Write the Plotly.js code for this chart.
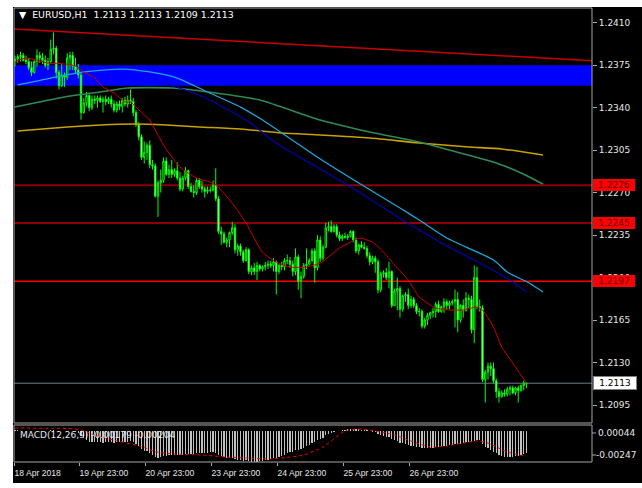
<!DOCTYPE html>
<html>
<head>
<meta charset="utf-8">
<script src="https://cdn.plot.ly/plotly-3.0.1.min.js"></script>
<style>
  html, body { margin: 0; padding: 0; background: #ffffff; }
  #chart { width: 642px; height: 488px; }
</style>
</head>
<body>
<div id="chart"></div>
<script>
// EURUSD H1 candles, oldest bar first
const openPx = [
  1.2378,1.2380,1.2382,1.2383,1.2379,1.2378,1.2373,1.2369,1.2378,1.2383,
  1.2381,1.2379,1.2375,1.2378,1.2388,1.2389,1.2369,1.2358,1.2367,1.2365,
  1.2381,1.2383,1.2374,1.2371,1.2367,1.2336,1.2344,1.2350,1.2340,1.2347,
  1.2346,1.2348,1.2345,1.2347,1.2345,1.2347,1.2343,1.2338,1.2343,1.2341,
  1.2346,1.2343,1.2346,1.2345,1.2336,1.2326,1.2316,1.2299,1.2303,1.2309,
  1.2293,1.2292,1.2267,1.2278,1.2280,1.2296,1.2285,1.2289,1.2285,1.2288,
  1.2282,1.2273,1.2282,1.2288,1.2275,1.2271,1.2270,1.2280,1.2275,1.2273,
  1.2271,1.2272,1.2272,1.2276,1.2265,1.2238,1.2236,1.2229,1.2231,1.2237,
  1.2241,1.2223,1.2226,1.2221,1.2214,1.2223,1.2205,1.2208,1.2205,1.2210,
  1.2207,1.2209,1.2210,1.2211,1.2210,1.2213,1.2205,1.2210,1.2209,1.2214,
  1.2214,1.2211,1.2205,1.2217,1.2197,1.2201,1.2210,1.2211,1.2214,1.2222,
  1.2208,1.2231,1.2216,1.2225,1.2241,1.2242,1.2238,1.2242,1.2235,1.2232,
  1.2234,1.2233,1.2234,1.2238,1.2231,1.2222,1.2227,1.2225,1.2224,1.2218,
  1.2213,1.2216,1.2213,1.2190,1.2203,1.2204,1.2200,1.2205,1.2177,1.2189,
  1.2191,1.2174,1.2185,1.2186,1.2177,1.2182,1.2177,1.2172,1.2172,1.2160,
  1.2165,1.2169,1.2171,1.2172,1.2178,1.2172,1.2176,1.2180,1.2177,1.2179,
  1.2180,1.2182,1.2165,1.2177,1.2173,1.2183,1.2182,1.2157,1.2200,1.2176,
  1.2175,1.2116,1.2122,1.2127,1.2125,1.2115,1.2106,1.2102,1.2105,1.2104,
  1.2108,1.2109,1.2105,1.2109,1.2107,1.2111,1.2113
];
const highPx = [
  1.2383,1.2384,1.2386,1.2385,1.2383,1.2381,1.2378,1.2379,1.2388,1.2386,
  1.2385,1.2383,1.2381,1.2396,1.2402,1.2391,1.2371,1.2376,1.2369,1.2385,
  1.2386,1.2386,1.2381,1.2376,1.2369,1.2348,1.2353,1.2351,1.2350,1.2350,
  1.2350,1.2350,1.2349,1.2350,1.2349,1.2350,1.2346,1.2345,1.2346,1.2348,
  1.2349,1.2350,1.2355,1.2348,1.2338,1.2328,1.2318,1.2312,1.2311,1.2313,
  1.2297,1.2294,1.2280,1.2289,1.2299,1.2299,1.2293,1.2297,1.2290,1.2295,
  1.2287,1.2284,1.2291,1.2289,1.2278,1.2276,1.2282,1.2282,1.2280,1.2275,
  1.2275,1.2275,1.2280,1.2290,1.2267,1.2242,1.2238,1.2233,1.2238,1.2246,
  1.2244,1.2228,1.2228,1.2223,1.2225,1.2224,1.2210,1.2212,1.2213,1.2211,
  1.2210,1.2213,1.2214,1.2214,1.2216,1.2214,1.2211,1.2213,1.2216,1.2219,
  1.2217,1.2214,1.2224,1.2219,1.2205,1.2212,1.2224,1.2216,1.2224,1.2224,
  1.2235,1.2234,1.2227,1.2245,1.2246,1.2247,1.2244,1.2244,1.2238,1.2236,
  1.2237,1.2236,1.2239,1.2239,1.2233,1.2228,1.2230,1.2229,1.2226,1.2221,
  1.2218,1.2218,1.2215,1.2205,1.2206,1.2208,1.2213,1.2206,1.2191,1.2200,
  1.2193,1.2186,1.2188,1.2191,1.2185,1.2184,1.2179,1.2175,1.2174,1.2167,
  1.2171,1.2172,1.2175,1.2180,1.2181,1.2177,1.2183,1.2182,1.2181,1.2182,
  1.2190,1.2188,1.2178,1.2182,1.2188,1.2186,1.2185,1.2210,1.2209,1.2182,
  1.2177,1.2124,1.2130,1.2130,1.2130,1.2117,1.2109,1.2107,1.2108,1.2110,
  1.2111,1.2111,1.2110,1.2111,1.2112,1.2115,1.2113
];
const lowPx = [
  1.2374,1.2377,1.2378,1.2378,1.2376,1.2371,1.2366,1.2368,1.2374,1.2377,
  1.2376,1.2373,1.2371,1.2376,1.2384,1.2364,1.2355,1.2357,1.2357,1.2363,
  1.2371,1.2371,1.2368,1.2364,1.2330,1.2335,1.2341,1.2337,1.2338,1.2343,
  1.2340,1.2344,1.2336,1.2342,1.2343,1.2340,1.2336,1.2336,1.2338,1.2336,
  1.2341,1.2340,1.2343,1.2333,1.2324,1.2313,1.2297,1.2294,1.2297,1.2290,
  1.2289,1.2266,1.2250,1.2270,1.2278,1.2284,1.2282,1.2282,1.2283,1.2280,
  1.2271,1.2271,1.2280,1.2273,1.2270,1.2266,1.2268,1.2273,1.2270,1.2266,
  1.2269,1.2270,1.2271,1.2263,1.2236,1.2227,1.2228,1.2225,1.2225,1.2235,
  1.2220,1.2218,1.2218,1.2212,1.2213,1.2203,1.2202,1.2202,1.2198,1.2205,
  1.2205,1.2206,1.2207,1.2208,1.2205,1.2186,1.2203,1.2206,1.2206,1.2211,
  1.2208,1.2201,1.2202,1.2190,1.2183,1.2199,1.2207,1.2210,1.2213,1.2196,
  1.2206,1.2213,1.2214,1.2224,1.2238,1.2237,1.2237,1.2233,1.2230,1.2230,
  1.2232,1.2231,1.2233,1.2229,1.2220,1.2219,1.2224,1.2223,1.2216,1.2210,
  1.2211,1.2204,1.2187,1.2188,1.2200,1.2198,1.2191,1.2175,1.2177,1.2173,
  1.2167,1.2172,1.2180,1.2174,1.2175,1.2175,1.2170,1.2168,1.2158,1.2158,
  1.2161,1.2166,1.2167,1.2167,1.2171,1.2171,1.2171,1.2174,1.2174,1.2177,
  1.2159,1.2155,1.2163,1.2167,1.2172,1.2175,1.2154,1.2146,1.2174,1.2172,
  1.2114,1.2097,1.2116,1.2119,1.2113,1.2101,1.2097,1.2101,1.2102,1.2102,
  1.2103,1.2104,1.2103,1.2097,1.2106,1.2107,1.2109
];
const closePx = [
  1.2380,1.2382,1.2383,1.2379,1.2378,1.2373,1.2369,1.2378,1.2383,1.2381,
  1.2379,1.2375,1.2378,1.2388,1.2389,1.2369,1.2358,1.2367,1.2365,1.2381,
  1.2383,1.2374,1.2371,1.2367,1.2336,1.2344,1.2350,1.2340,1.2347,1.2346,
  1.2348,1.2345,1.2347,1.2345,1.2347,1.2343,1.2338,1.2343,1.2341,1.2346,
  1.2343,1.2346,1.2345,1.2336,1.2326,1.2316,1.2299,1.2303,1.2309,1.2293,
  1.2292,1.2267,1.2278,1.2280,1.2296,1.2285,1.2289,1.2285,1.2288,1.2282,
  1.2273,1.2282,1.2288,1.2275,1.2271,1.2270,1.2280,1.2275,1.2273,1.2271,
  1.2272,1.2272,1.2276,1.2265,1.2238,1.2236,1.2229,1.2231,1.2237,1.2241,
  1.2223,1.2226,1.2221,1.2214,1.2223,1.2205,1.2208,1.2205,1.2210,1.2207,
  1.2209,1.2210,1.2211,1.2210,1.2213,1.2205,1.2210,1.2209,1.2214,1.2214,
  1.2211,1.2205,1.2217,1.2197,1.2201,1.2210,1.2211,1.2214,1.2222,1.2208,
  1.2231,1.2216,1.2225,1.2241,1.2242,1.2238,1.2242,1.2235,1.2232,1.2234,
  1.2233,1.2234,1.2238,1.2231,1.2222,1.2227,1.2225,1.2224,1.2218,1.2213,
  1.2216,1.2213,1.2190,1.2203,1.2204,1.2200,1.2205,1.2177,1.2189,1.2191,
  1.2174,1.2185,1.2186,1.2177,1.2182,1.2177,1.2172,1.2172,1.2160,1.2165,
  1.2169,1.2171,1.2172,1.2178,1.2172,1.2176,1.2180,1.2177,1.2179,1.2180,
  1.2182,1.2165,1.2177,1.2173,1.2183,1.2182,1.2157,1.2200,1.2176,1.2175,
  1.2116,1.2122,1.2127,1.2125,1.2115,1.2106,1.2102,1.2105,1.2104,1.2108,
  1.2109,1.2105,1.2109,1.2107,1.2111,1.2113,1.2113
];

// MACD(12,26,9) main line, one value per candle (drawn as histogram)
const macdMain = [
  0.00002,0.00001,0.00000,-0.00001,-0.00002,-0.00002,-0.00003,-0.00002,-0.00001,-0.00001,
  0.00000,-0.00001,-0.00001,0.00001,0.00002,-0.00001,-0.00003,-0.00004,-0.00004,-0.00003,
  -0.00003,-0.00004,-0.00008,-0.00015,-0.00040,-0.00062,-0.00074,-0.00086,-0.00090,-0.00092,
  -0.00092,-0.00093,-0.00094,-0.00093,-0.00092,-0.00092,-0.00094,-0.00093,-0.00092,-0.00090,
  -0.00088,-0.00086,-0.00084,-0.00092,-0.00105,-0.00122,-0.00145,-0.00158,-0.00163,-0.00178,
  -0.00188,-0.00205,-0.00212,-0.00210,-0.00200,-0.00198,-0.00195,-0.00192,-0.00190,-0.00188,
  -0.00190,-0.00188,-0.00183,-0.00183,-0.00184,-0.00184,-0.00180,-0.00178,-0.00177,-0.00176,
  -0.00174,-0.00172,-0.00170,-0.00174,-0.00190,-0.00200,-0.00210,-0.00216,-0.00218,-0.00216,
  -0.00224,-0.00228,-0.00232,-0.00237,-0.00235,-0.00243,-0.00246,-0.00247,-0.00244,-0.00242,
  -0.00238,-0.00233,-0.00228,-0.00222,-0.00215,-0.00212,-0.00205,-0.00197,-0.00188,-0.00178,
  -0.00170,-0.00166,-0.00155,-0.00152,-0.00147,-0.00135,-0.00122,-0.00110,-0.00096,-0.00092,
  -0.00074,-0.00068,-0.00056,-0.00038,-0.00026,-0.00016,-0.00008,-0.00004,0.00000,0.00004,
  0.00008,0.00010,0.00014,0.00014,0.00010,0.00010,0.00008,0.00006,0.00002,-0.00004,
  -0.00008,-0.00014,-0.00030,-0.00036,-0.00042,-0.00048,-0.00052,-0.00066,-0.00074,-0.00082,
  -0.00094,-0.00100,-0.00106,-0.00114,-0.00118,-0.00122,-0.00126,-0.00128,-0.00136,-0.00138,
  -0.00138,-0.00137,-0.00135,-0.00132,-0.00130,-0.00128,-0.00124,-0.00120,-0.00116,-0.00112,
  -0.00106,-0.00106,-0.00102,-0.00098,-0.00092,-0.00088,-0.00090,-0.00078,-0.00076,-0.00074,
  -0.00104,-0.00126,-0.00140,-0.00152,-0.00166,-0.00180,-0.00192,-0.00200,-0.00206,-0.00208,
  -0.00208,-0.00206,-0.00203,-0.00200,-0.00194,-0.00187,-0.00179
];
// MACD signal line (bar index, value)
const signalBars = [0,14,21,25,29,36,46,51,58,68,77,84,93,97,105,112,120,126,131,137,145,151,157,168,172,179,186];
const signalVals = [0.00020,0.00018,0.00015,0.00000,-0.00035,-0.00075,-0.00125,-0.00165,-0.00184,-0.00192,
  -0.00208,-0.00215,-0.00223,-0.00215,-0.00192,-0.00129,-0.00003,0.00013,-0.00003,-0.00027,
  -0.00090,-0.00129,-0.00121,-0.00082,-0.00098,-0.00168,-0.00204];
const macdScaleMax = 0.00044;
const macdScaleMin = -0.00247;

// moving averages (bar index, price)
const fastMaBars = [0,4,12,18,22,25,29,32,36,40,42,44,47,49,51,53,54,60,66,71,73,79,84,90,95,100,106,111,118,122,
  124,126,128,130,134,139,143,147,151,153,158,163,168,170,174,177,181,184,186];
const fastMaVals = [1.23776,1.23809,1.23768,1.23760,1.23743,1.23694,1.23644,1.23570,1.23521,1.23447,
  1.23447,1.23405,1.23339,1.23298,1.23216,1.23133,1.23092,1.22911,1.22820,1.22787,
  1.22763,1.22614,1.22449,1.22210,1.22128,1.22087,1.22087,1.22120,1.22243,1.22293,
  1.22318,1.22326,1.22309,1.22293,1.22210,1.22079,1.21980,1.21840,1.21774,1.21749,
  1.21733,1.21733,1.21757,1.21733,1.21593,1.21428,1.21296,1.21197,1.21131];
const skyMaBars = [1,13,25,39,49,59,70,82,90,111,125,140,147,157,174,179,187,192];
const skyMaVals = [1.23587,1.23644,1.23694,1.23718,1.23694,1.23644,1.23529,1.23405,1.23298,1.22977,
  1.22779,1.22573,1.22474,1.22326,1.22145,1.22046,1.21955,1.21881];
const navyMaBars = [55,67,84,96,111,125,141,155,169,180,186];
const navyMaVals = [1.23595,1.23504,1.23298,1.23092,1.22894,1.22705,1.22474,1.22285,1.22120,1.21980,1.21881];
const greenMaBars = [0,18,31,41,57,73,89,111,129,147,162,175,184,192];
const greenMaVals = [1.23405,1.23488,1.23529,1.23562,1.23562,1.23521,1.23463,1.23298,1.23199,1.23117,
  1.23026,1.22944,1.22862,1.22771];
const goldMaBars = [1,19,31,43,55,67,82,97,111,129,147,165,177,192];
const goldMaVals = [1.23208,1.23241,1.23257,1.23265,1.23257,1.23241,1.23224,1.23191,1.23175,1.23150,
  1.23109,1.23076,1.23059,1.23010];

// drawn objects
const trendBars = [-0.36, 209.82];
const trendPrices = [1.24048, 1.23787];
const zoneLow = 1.2358, zoneHigh = 1.2375;
const darkLevels = [1.2276, 1.2245];
const redLevel = 1.2197;
const bidPrice = 1.2113;

// axes
const priceTicks = [1.2095,1.2130,1.2165,1.2200,1.2235,1.2270,1.2305,1.2340,1.2375,1.2410];
const timeTickBars = [-0.36, 23.28, 47.28, 71.28, 95.28, 119.28, 143.28];
const timeTickText = ['18 Apr 2018','19 Apr 23:00','20 Apr 23:00','23 Apr 23:00','24 Apr 23:00','25 Apr 23:00','26 Apr 23:00'];

const barIdx = openPx.map((_, i) => i);
const last = openPx.length - 1;

// pixel -> paper helpers (plot area: left 14, top 8, 578 x 454)
const PW = 578, PH = 454, PL = 14, PB = 462;
const pxX = px => (px - PL) / PW;
const pxY = py => (PB - py) / PH;

const mainDomain = [pxY(423), 1];
const macdDomain = [0, pxY(425)];

const maLine = (x, y, color, width) => ({
  type: 'scatter', mode: 'lines', x: x, y: y, xaxis: 'x', yaxis: 'y',
  line: { color: color, width: width, shape: 'spline', smoothing: 0.6 },
  hoverinfo: 'skip'
});

const traces = [
  {
    type: 'candlestick', x: barIdx, open: openPx, high: highPx, low: lowPx, close: closePx,
    xaxis: 'x', yaxis: 'y', whiskerwidth: 0,
    increasing: { line: { color: '#00ff00', width: 1 }, fillcolor: '#000000' },
    decreasing: { line: { color: '#00ff00', width: 1 }, fillcolor: '#ffffff' },
    hoverinfo: 'skip'
  },
  maLine(goldMaBars, goldMaVals, '#c8a200', 1.6),
  maLine(greenMaBars, greenMaVals, '#2e8b57', 1.6),
  maLine(skyMaBars, skyMaVals, '#1ea6dc', 1.3),
  maLine(navyMaBars, navyMaVals, '#0000b8', 1.2),
  maLine(fastMaBars, fastMaVals, '#d00000', 1),
  {
    type: 'scatter', mode: 'lines', x: trendBars, y: trendPrices, xaxis: 'x', yaxis: 'y',
    line: { color: '#c80000', width: 1.5 }, hoverinfo: 'skip'
  },
  {
    type: 'bar', x: barIdx, y: macdMain, xaxis: 'x', yaxis: 'y2', width: 0.38,
    marker: { color: '#c0c0c0', line: { width: 0 } }, hoverinfo: 'skip'
  },
  {
    type: 'scatter', mode: 'lines', x: signalBars, y: signalVals, xaxis: 'x', yaxis: 'y2',
    line: { color: '#ff0000', width: 1, dash: 'dot', shape: 'spline', smoothing: 0.6 }, hoverinfo: 'skip'
  }
];

const hLine = (y, color, width) => ({
  type: 'line', xref: 'paper', yref: 'y', x0: 0, x1: 1, y0: y, y1: y,
  line: { color: color, width: width }, layer: 'below'
});

const frameColor = '#a8a8a8';
const shapes = [
  { type: 'rect', xref: 'paper', yref: 'y', x0: 0, x1: 1, y0: zoneLow, y1: zoneHigh,
    fillcolor: '#0000ff', line: { width: 0 }, layer: 'below' },
  hLine(darkLevels[0], '#8b0000', 2),
  hLine(darkLevels[1], '#8b0000', 2),
  hLine(redLevel, '#ff0000', 1.3),
  hLine(bidPrice, '#6e7b8b', 1),
  // panel frames
  { type: 'rect', xref: 'paper', yref: 'paper', x0: 0, x1: 1, y0: mainDomain[0], y1: mainDomain[1],
    line: { color: frameColor, width: 1 }, fillcolor: 'rgba(0,0,0,0)', layer: 'above' },
  { type: 'rect', xref: 'paper', yref: 'paper', x0: 0, x1: 1, y0: macdDomain[0], y1: macdDomain[1],
    line: { color: frameColor, width: 1 }, fillcolor: 'rgba(0,0,0,0)', layer: 'above' },
  // indicator scale ticks
  { type: 'line', xref: 'paper', yref: 'paper', x0: 1, x1: pxX(596), y0: pxY(433), y1: pxY(433),
    line: { color: frameColor, width: 1 } },
  { type: 'line', xref: 'paper', yref: 'paper', x0: 1, x1: pxX(596), y0: pxY(455), y1: pxY(455),
    line: { color: frameColor, width: 1 } },
  // window surround
  { type: 'rect', xref: 'paper', yref: 'paper', x0: pxX(-5), x1: pxX(13), y0: pxY(495), y1: pxY(-5),
    fillcolor: '#ffffff', line: { width: 0 }, layer: 'above' },
  { type: 'rect', xref: 'paper', yref: 'paper', x0: pxX(-5), x1: pxX(650), y0: pxY(7), y1: pxY(-5),
    fillcolor: '#ffffff', line: { width: 0 }, layer: 'above' },
  { type: 'rect', xref: 'paper', yref: 'paper', x0: pxX(-5), x1: pxX(650), y0: pxY(495), y1: pxY(483),
    fillcolor: '#ffffff', line: { width: 0 }, layer: 'above' }
];

const fmt4 = v => v.toFixed(4);
const fmt5 = v => v.toFixed(5);
const txt = '#e6e6e6';

const levelLabel = (y, bg, fg, border) => ({
  xref: 'paper', yref: 'y', x: 1, y: y, xanchor: 'left', yanchor: 'middle', xshift: 1,
  text: fmt4(y), showarrow: false, width: 40, height: 10, borderpad: 1, align: 'center',
  bgcolor: bg, bordercolor: border || bg, borderwidth: border ? 1 : 0,
  font: { family: 'DejaVu Sans', size: 9, color: fg }
});

const nb = '\u00a0';
const annotations = [
  { xref: 'paper', yref: 'paper', x: pxX(17), y: pxY(14.5), xanchor: 'left', yanchor: 'middle', showarrow: false,
    text: '\u25BC' + nb + nb + 'EURUSD,H1' + nb + nb + [openPx[last], highPx[last], lowPx[last], closePx[last]].map(fmt4).join(' '),
    font: { family: 'DejaVu Sans', size: 9.4, color: '#ffffff' } },
  { xref: 'paper', yref: 'paper', x: pxX(18), y: pxY(435), xanchor: 'left', yanchor: 'middle', showarrow: false,
    text: 'MACD(12,26,9) ' + fmt5(macdMain[last]) + ' ' + fmt5(signalVals[signalVals.length - 1]),
    font: { family: 'DejaVu Sans', size: 9, color: txt } },
  { xref: 'paper', yref: 'paper', x: pxX(596), y: pxY(433), xanchor: 'left', yanchor: 'middle', showarrow: false,
    text: fmt5(macdScaleMax), font: { family: 'DejaVu Sans', size: 9, color: txt } },
  { xref: 'paper', yref: 'paper', x: pxX(594), y: pxY(455), xanchor: 'left', yanchor: 'middle', showarrow: false,
    text: fmt5(macdScaleMin), font: { family: 'DejaVu Sans', size: 9, color: txt } },
  levelLabel(darkLevels[0], '#ff0000', '#6a0000'),
  levelLabel(darkLevels[1], '#ff0000', '#6a0000'),
  levelLabel(redLevel, '#ff0000', '#6a0000'),
  levelLabel(bidPrice, '#ffffff', '#000000', '#808080')
];

const layout = {
  width: 642, height: 488,
  margin: { l: PL, r: 642 - PL - PW, t: 8, b: 488 - PB, pad: 0 },
  paper_bgcolor: '#000000', plot_bgcolor: '#000000',
  showlegend: false, hovermode: false, dragmode: false,
  xaxis: {
    domain: [0, 1], anchor: 'y2', range: [trendBars[0], trendBars[1]],
    tickmode: 'array', tickvals: timeTickBars, ticktext: timeTickText,
    ticks: 'outside', ticklen: 3, tickcolor: frameColor, ticklabelposition: 'outside right',
    ticklabelstandoff: 3,
    tickfont: { family: 'Liberation Sans', size: 8.6, color: txt },
    showgrid: false, zeroline: false, showline: false,
    rangeslider: { visible: false }, fixedrange: true
  },
  yaxis: {
    domain: mainDomain, anchor: 'x', side: 'right', range: [1.20802, 1.24221],
    tickmode: 'array', tickvals: priceTicks, ticktext: priceTicks.map(fmt4),
    ticks: 'outside', ticklen: 4, tickcolor: frameColor,
    tickfont: { family: 'DejaVu Sans', size: 9, color: txt },
    showgrid: false, zeroline: false, showline: false, fixedrange: true
  },
  yaxis2: {
    domain: macdDomain, anchor: 'x', side: 'right', range: [macdScaleMin, macdScaleMax],
    showticklabels: false, ticks: '', showgrid: false, zeroline: false, showline: false, fixedrange: true
  },
  bargap: 0,
  shapes: shapes,
  annotations: annotations
};

Plotly.newPlot('chart', traces, layout, { staticPlot: true, displayModeBar: false });
</script>
</body>
</html>
